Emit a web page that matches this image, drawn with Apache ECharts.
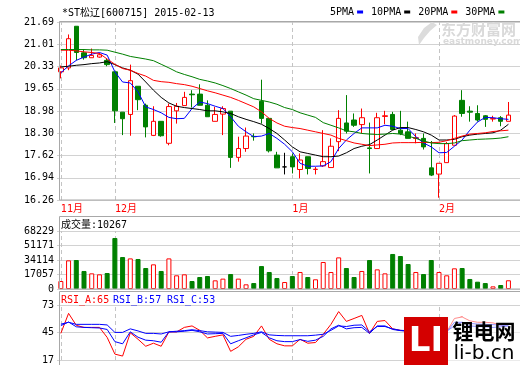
<!DOCTYPE html>
<html><head><meta charset="utf-8">
<script src="https://cdn.jsdelivr.net/npm/echarts@6/dist/echarts.min.js"></script>
<style>html,body{margin:0;padding:0;background:#fff}#c{width:520px;height:365px}</style>
</head><body><div id="c"></div>
<script>
const categories = [
 '2014-11-20','2014-11-21','2014-11-24','2014-11-25','2014-11-26','2014-11-27','2014-11-28',
 '2014-12-01','2014-12-02','2014-12-03','2014-12-04','2014-12-05','2014-12-08','2014-12-09','2014-12-10','2014-12-11','2014-12-12',
 '2014-12-15','2014-12-16','2014-12-17','2014-12-18','2014-12-19','2014-12-22','2014-12-23','2014-12-24','2014-12-25','2014-12-26',
 '2014-12-29','2014-12-30','2014-12-31',
 '2015-01-05','2015-01-06','2015-01-07','2015-01-08','2015-01-09','2015-01-12','2015-01-13','2015-01-14','2015-01-15','2015-01-16',
 '2015-01-19','2015-01-20','2015-01-21','2015-01-22','2015-01-23','2015-01-26','2015-01-27','2015-01-28','2015-01-29',
 '2015-02-02','2015-02-03','2015-02-04','2015-02-05','2015-02-06','2015-02-09','2015-02-10','2015-02-11','2015-02-12','2015-02-13'];
const openP = [20.17,20.29,21.56,20.75,20.60,20.62,20.52,20.17,18.94,18.87,
 19.73,19.15,18.23,18.66,17.99,18.98,19.14,19.49,19.49,19.15,
 18.66,18.88,18.97,17.56,17.83,18.20,19.27,18.75,17.63,17.27,
 17.58,17.19,17.58,17.19,17.30,17.25,18.04,18.61,18.70,18.56,
 17.85,17.83,18.81,18.87,18.39,18.34,18.14,18.14,17.24,17.05,
 17.40,17.93,19.30,18.97,18.90,18.83,18.73,18.77,18.66];
const closeP = [20.29,21.18,20.76,20.60,20.67,20.69,20.39,18.98,18.74,19.90,
 19.32,18.49,18.66,18.22,19.11,19.12,19.39,19.47,19.15,18.80,
 18.87,19.05,17.56,17.83,18.21,18.19,18.75,17.76,17.24,17.27,
 17.27,17.48,17.22,17.20,17.43,17.90,18.75,18.36,18.54,18.77,
 17.83,18.77,18.83,18.41,18.29,18.14,18.16,17.88,17.02,17.38,
 17.98,18.82,18.90,18.94,18.70,18.72,18.75,18.66,18.85];
const lowP = [19.97,20.22,20.52,20.54,20.60,20.60,20.34,18.61,18.24,18.22,
 19.00,18.17,18.21,18.19,17.93,18.59,19.14,19.08,19.15,18.80,
 18.66,18.24,17.24,17.43,17.73,18.07,18.59,17.71,17.24,17.04,
 17.07,16.92,17.04,17.04,17.27,17.25,17.75,18.29,18.49,18.29,
 17.07,17.83,18.57,18.39,18.24,18.14,17.99,17.80,16.99,16.33,
 17.40,17.93,18.80,18.65,18.65,18.49,18.65,18.51,18.66];
const highP = [20.36,21.31,21.56,20.85,20.88,20.75,20.57,20.17,18.94,20.39,
 19.73,19.20,19.12,18.66,19.20,19.22,19.56,19.61,19.79,19.30,
 19.10,19.12,18.97,18.19,18.47,18.29,19.93,18.75,17.73,17.70,
 17.68,17.68,17.58,17.27,18.39,18.14,19.00,19.46,18.90,19.05,
 18.62,18.92,18.98,18.95,18.98,18.65,18.29,18.29,18.06,17.38,
 18.03,18.85,19.61,19.12,19.15,18.85,18.83,18.82,19.25];
const ma5 = [20.14,20.35,20.52,20.62,20.71,20.76,20.68,20.17,19.86,19.83,
 19.56,19.10,19.02,18.92,18.78,18.74,18.75,19.05,19.25,19.20,
 19.12,19.05,18.80,18.51,18.34,18.19,18.21,18.29,18.14,17.96,
 17.73,17.38,17.29,17.29,17.30,17.43,17.83,18.09,18.29,18.46,
 18.46,18.46,18.54,18.51,18.44,18.44,18.19,18.00,17.88,17.70,
 17.71,17.90,18.09,18.39,18.64,18.78,18.77,18.74,18.72];
const ma10 = [20.32,20.34,20.37,20.39,20.42,20.44,20.48,20.39,20.29,20.22,
 20.10,19.86,19.61,19.39,19.22,19.12,19.08,19.05,19.02,18.98,
 18.98,18.95,18.90,18.80,18.72,18.65,18.57,18.44,18.29,18.09,
 17.88,17.73,17.68,17.63,17.58,17.58,17.60,17.70,17.83,17.90,
 17.95,18.09,18.24,18.39,18.47,18.47,18.41,18.34,18.24,18.09,
 18.09,18.11,18.19,18.24,18.27,18.29,18.31,18.39,18.57];
const ma20 = [20.83,20.83,20.81,20.78,20.76,20.73,20.56,20.40,20.27,20.22,
 20.12,20.04,19.91,19.87,19.85,19.81,19.78,19.73,19.66,19.59,
 19.53,19.46,19.39,19.30,19.20,19.10,18.95,18.75,18.61,18.51,
 18.47,18.44,18.39,18.34,18.29,18.24,18.14,18.07,18.00,17.96,
 17.92,17.94,17.96,18.00,18.01,18.01,18.01,18.02,18.01,18.02,
 18.07,18.14,18.21,18.27,18.29,18.31,18.35,18.37,18.39];
const ma30 = [20.85,20.85,20.85,20.85,20.84,20.84,20.83,20.77,20.71,20.64,
 20.60,20.56,20.51,20.40,20.29,20.17,20.09,20.02,19.94,19.89,
 19.83,19.75,19.66,19.56,19.46,19.35,19.30,19.25,19.18,19.08,
 19.02,18.92,18.85,18.78,18.62,18.54,18.46,18.37,18.34,18.29,
 18.27,18.26,18.27,18.29,18.27,18.21,18.14,18.06,18.00,17.98,
 17.98,18.00,18.07,18.09,18.11,18.12,18.13,18.15,18.19];
const volume = [9400,33700,34100,21200,18400,17250,18800,60000,37600,36000,
 35300,24700,29000,21200,36000,16100,17250,9400,14100,15300,
 10200,12200,17600,12200,5500,7000,27000,20000,12900,8200,
 15300,20000,14100,11400,31750,20000,37200,24700,14100,21200,
 34100,23100,18400,41200,38800,29400,20000,17600,34100,20000,
 16100,24300,24700,11800,8600,7000,3100,4700,10267];
const rsiA = [44.1,64.5,52.3,50.2,50.2,50.2,40.0,23.0,21.0,44.7,
 38.1,31.0,34.1,31.0,45.6,45.6,50.2,51.7,47.2,39.5,
 41.1,42.6,25.8,30.4,38.1,41.1,51.7,38.1,33.5,31.4,
 31.4,38.1,34.1,34.8,43.2,53.3,66.3,56.3,59.3,62.4,
 44.1,56.3,57.2,48.7,47.2,46.3,45.7,45.7,38.0,44.0,
 45.7,59.3,60.8,56.9,55.4,55.4,54.8,52.4,53.3];
const rsiB = [52.0,55.7,50.8,50.2,49.9,49.6,48.1,35.7,33.5,45.7,
 40.2,37.2,36.6,35.1,45.7,45.7,46.3,47.2,45.7,43.5,
 43.8,44.1,33.5,36.6,39.6,42.6,45.1,39.6,36.6,35.7,
 35.7,37.8,36.0,37.2,41.1,48.7,52.4,48.7,49.9,50.2,
 44.1,51.7,51.7,48.1,46.9,46.3,45.7,45.7,42.6,43.2,
 45.7,55.4,55.4,51.7,51.1,50.8,50.2,50.8,51.7];
const rsiC = [53.5,55.4,53.3,53.3,53.3,53.3,52.7,45.1,45.1,48.7,
 46.6,44.1,44.1,43.5,45.7,46.3,46.9,47.8,46.9,45.7,
 45.4,45.1,41.1,42.0,43.2,44.1,45.7,42.6,42.0,41.7,
 41.7,41.7,41.7,42.3,43.2,47.2,51.7,51.1,52.4,52.7,
 45.7,51.1,51.1,48.7,47.2,46.9,46.9,46.3,45.1,45.7,
 46.3,51.7,55.4,54.2,53.6,53.3,53.0,52.4,51.7];
const priceTicks = ['16.26','16.94','17.62','18.30','18.98','19.65','20.33','21.01','21.69'];
const volTicks = ['0','17057','34114','51171','68229'];
const rsiTicks = ['17','45','73'];
const monthNames = {'11':'11月','12':'12月','01':'1月','02':'2月'};

const FONT = '"DejaVu Sans Mono","Noto Sans CJK SC",monospace';
const RED = '#ff0000', GREEN = '#008000', BLUE = '#0000ff';
const GRIDC = '#d2d2d2', BOX = '#a8a8a8', DASH = '#c4c4c4';

const axisCats = categories.concat(['']);
const monthStarts = [];
categories.forEach((d, i) => { if (i === 0 || d.slice(5,7) !== categories[i-1].slice(5,7)) monthStarts.push(i); });
const markV = {silent: true, symbol: 'none', z: 1, label: {show: false},
  lineStyle: {type: [4,3], color: DASH, width: 1}, emphasis: {disabled: true},
  data: monthStarts.map(i => ({xAxis: i}))};

const candleData = openP.map((o, i) => [o, closeP[i], lowP[i], highP[i]]);
const volData = volume.map((v, i) => {
  const up = closeP[i] >= openP[i];
  return {value: v, itemStyle: up ? {color: '#fff', borderColor: RED, borderWidth: 1} : {color: GREEN, borderColor: GREEN, borderWidth: 1}};
});

const L = 57, W = 465;
const grids = [
  {left: L, top: 22, width: W, height: 178},
  {left: L, top: 231, width: W, height: 58},
  {left: L, top: 305, width: W, height: 59}
];
function xAx(g, labels) {
  return {type: 'category', gridIndex: g, data: axisCats, boundaryGap: true,
    axisLine: {show: false}, axisTick: {show: false}, splitLine: {show: false},
    axisLabel: labels ? {show: true, interval: (i) => monthStarts.indexOf(i) >= 0,
      formatter: (v) => monthNames[v.slice(5,7)] || '', color: RED, align: 'left',
      margin: 4, fontSize: 10, fontFamily: FONT, hideOverlap: false} : {show: false}};
}
function yAx(g, min, max, interval, ticks) {
  return {type: 'value', gridIndex: g, min: min, max: max, interval: interval,
    axisLine: {show: false}, axisTick: {show: false},
    splitLine: {show: true, lineStyle: {color: GRIDC, width: 1}},
    axisLabel: {margin: 3, color: '#000', fontSize: 10, fontFamily: FONT,
      formatter: (v) => { const k = Math.round((v - min) / interval); return ticks[k] !== undefined ? ticks[k] : ''; }}};
}
function txt(x, y, s, color, size, extra) {
  return Object.assign({type: 'text', x: x, y: y, silent: true, z: 10,
    style: {text: s, fill: color, font: (size||10) + 'px ' + FONT, verticalAlign: 'middle', align: 'left'}}, extra||{});
}
function maLine(name, data, color) {
  return {name: name, type: 'line', xAxisIndex: 0, yAxisIndex: 0, data: data, symbol: 'none',
    color: color, lineStyle: {color: color, width: 1}, z: 4, silent: true, animation: false};
}
function rsiLine(name, data, color, withMark) {
  const s = {name: name, type: 'line', xAxisIndex: 2, yAxisIndex: 2, data: data, symbol: 'none',
    color: color, lineStyle: {color: color, width: 1}, z: 4, silent: true, animation: false};
  if (withMark) s.markLine = markV;
  return s;
}

const chart = echarts.init(document.getElementById('c'), null, {renderer: 'canvas'});
chart.setOption({
  animation: false,
  backgroundColor: '#fff',
  grid: grids,
  legend: {data: ['5PMA','10PMA','20PMA','30PMA'], left: 330, top: 7, width: 200, padding: 0, icon: 'rect',
    itemWidth: 6, itemHeight: 3, itemGap: 8, align: 'right', selectedMode: false,
    textStyle: {fontSize: 10, fontFamily: FONT, color: '#000', padding: [0, -2, 0, 0]}},
  xAxis: [xAx(0, true), xAx(1, false), xAx(2, false)],
  yAxis: [yAx(0, 16.26, 21.69, 0.67875, priceTicks), yAx(1, 0, 68229, 17057.25, volTicks), yAx(2, 17, 73, 28, rsiTicks)],
  series: [
    {name: 'K', type: 'candlestick', xAxisIndex: 0, yAxisIndex: 0, data: candleData, barWidth: 5, z: 3,
      silent: true, clip: false,
      itemStyle: {color: '#fff', color0: GREEN, borderColor: RED, borderColor0: GREEN, borderColorDoji: '#000', borderWidth: 1},
      markLine: markV},
    maLine('5PMA', ma5, BLUE), maLine('10PMA', ma10, '#000'), maLine('20PMA', ma20, RED), maLine('30PMA', ma30, GREEN),
    {name: 'VOL', type: 'bar', xAxisIndex: 1, yAxisIndex: 1, data: volData, barWidth: 5, silent: true, z: 3, markLine: markV},
    rsiLine('RSI_A', rsiA, RED, true), rsiLine('RSI_B', rsiB, BLUE, false), rsiLine('RSI_C', rsiC, BLUE, false)
  ],
  graphic: [
    {type: 'rect', silent: true, z: 9, shape: {x: 59.5, y: 21.5, width: 470, height: 178.5}, style: {fill: 'none', stroke: BOX, lineWidth: 1}},
    {type: 'rect', silent: true, z: 9, shape: {x: 59.5, y: 216.5, width: 470, height: 72.5}, style: {fill: 'none', stroke: BOX, lineWidth: 1}},
    {type: 'rect', silent: true, z: 9, shape: {x: 59.5, y: 291.5, width: 470, height: 80}, style: {fill: 'none', stroke: BOX, lineWidth: 1}},
    txt(62, 13, '*ST松辽[600715] 2015-02-13', '#000', 10),
    txt(61, 225, '成交量:10267', '#000', 10),
    txt(61, 300, 'RSI_A:65', RED, 10),
    txt(113, 300, 'RSI_B:57', BLUE, 10),
    txt(167, 300, 'RSI_C:53', BLUE, 10),
    {type: 'polygon', silent: true, z: 8, shape: {points: [[432,22],[424,28],[418,37],[419,45],[424,38],[430,31],[437,25]]}, style: {fill: '#dcdcdc'}},
    {type: 'text', silent: true, z: 8, x: 441, y: 29, style: {text: '东方财富网', fill: '#d9d9d9', font: 'bold 15px "Noto Sans CJK SC"', verticalAlign: 'middle'}},
    {type: 'text', silent: true, z: 8, x: 443, y: 42, style: {text: 'eastmoney.com', fill: '#d9d9d9', font: 'bold 9px "DejaVu Sans"', verticalAlign: 'middle'}},
    {type: 'rect', silent: true, z: 11, shape: {x: 404, y: 317, width: 44, height: 48}, style: {fill: '#d40000'}},
    {type: 'text', silent: true, z: 12, x: 426, y: 342, style: {text: 'LI', fill: '#fff', font: 'bold 34px "DejaVu Sans"', align: 'center', verticalAlign: 'middle'}},
    {type: 'rect', silent: true, z: 11, shape: {x: 448, y: 317, width: 72, height: 48}, style: {fill: 'rgba(255,255,255,0.55)'}},
    {type: 'text', silent: true, z: 12, x: 484, y: 331, style: {text: '锂电网', fill: '#000', font: 'bold 21px "Noto Sans CJK SC"', align: 'center', verticalAlign: 'middle'}},
    {type: 'text', silent: true, z: 12, x: 484, y: 354, style: {text: 'li-b.cn', fill: '#000', font: '20px "DejaVu Sans"', align: 'center', verticalAlign: 'middle'}}
  ]
});
</script></body></html>
